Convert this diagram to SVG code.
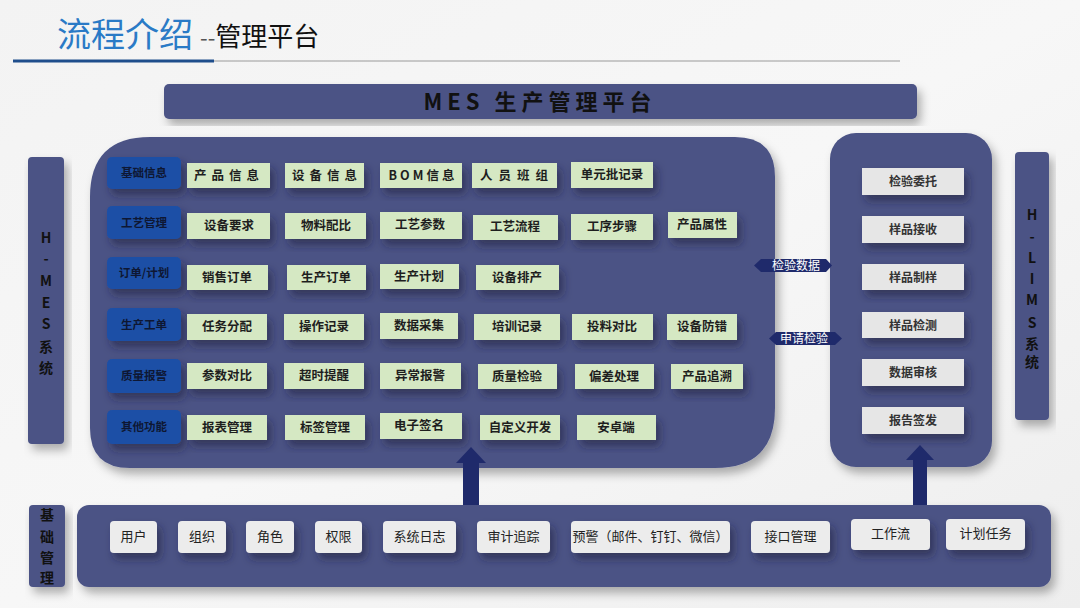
<svg xmlns="http://www.w3.org/2000/svg" width="1080" height="608" viewBox="0 0 1080 608">
<defs>
<linearGradient id="bg" x1="0" y1="0" x2="1" y2="1">
<stop offset="0" stop-color="#f3f3f3"/>
<stop offset="0.5" stop-color="#f7f7f7"/>
<stop offset="1" stop-color="#eeeeee"/>
</linearGradient>
<filter id="sh" x="-20%" y="-20%" width="150%" height="170%">
<feDropShadow dx="4" dy="6" stdDeviation="4" flood-color="#1a1f3a" flood-opacity="0.55"/>
</filter>
<filter id="psh" x="-10%" y="-10%" width="130%" height="130%">
<feDropShadow dx="4" dy="6" stdDeviation="5" flood-color="#000" flood-opacity="0.3"/>
</filter>
<style>
.panel{fill:#4b5385}
.cat{fill:#1c4fa6}
.catt{font-family:"Noto Sans CJK SC",sans-serif;font-size:11.5px;font-weight:700;fill:#0e1733;text-anchor:middle}
.g{fill:#d5e8c3}
.gt{font-family:"Noto Sans CJK SC",sans-serif;font-size:12.5px;font-weight:700;fill:#1e1e1e;text-anchor:middle}
.w{fill:#e6e6e6}
.wt{font-family:"Noto Sans CJK SC",sans-serif;font-size:12px;font-weight:700;fill:#333;text-anchor:middle}
.b{fill:#ececec}
.bt{font-family:"Noto Sans CJK SC",sans-serif;font-size:13px;fill:#222;text-anchor:middle}
.vt{font-family:"Noto Sans CJK SC",sans-serif;font-size:14px;font-weight:700;fill:#111;text-anchor:middle}
.arr{fill:#1f2a6b}
.bdg{fill:#1f2a6b}
.bdgt{font-family:"Noto Sans CJK SC",sans-serif;font-size:12px;fill:#fff;text-anchor:middle}
</style>
</defs>
<rect width="1080" height="608" fill="url(#bg)"/>

<g id="title">
<text x="57" y="47" font-family="'Noto Sans CJK SC',sans-serif" font-size="34" fill="#2a7ac6">流程介绍</text>
<text x="200" y="46" font-family="'Noto Sans CJK SC',sans-serif" font-size="26" fill="#111"><tspan fill="#555" font-size="22">--</tspan>管理平台</text>
<line x1="214" y1="61" x2="900" y2="61" stroke="#9a9a9a" stroke-width="1"/>
<line x1="13" y1="61" x2="214" y2="61" stroke="#1f4e8c" stroke-width="3"/>
</g>

<g id="mes-header">
<rect x="164" y="84" width="753" height="35" rx="5" class="panel" filter="url(#psh)"/>
<text x="540" y="110" font-family="'Noto Sans CJK SC',sans-serif" font-size="22" font-weight="700" fill="#111" text-anchor="middle" letter-spacing="5">MES 生产管理平台</text>
</g>

<g id="h-mes">
<rect x="28" y="157" width="36" height="287" rx="4" class="panel" filter="url(#psh)"/>
<text class="vt" x="46" y="243">H</text>
<text class="vt" x="46" y="264">-</text>
<text class="vt" x="46" y="286">M</text>
<text class="vt" x="46" y="308">E</text>
<text class="vt" x="46" y="329">S</text>
<text class="vt" x="46" y="352">系</text>
<text class="vt" x="46" y="373">统</text>
</g>

<g id="h-lims">
<rect x="1015" y="152" width="34" height="268" rx="4" class="panel" filter="url(#psh)"/>
<text class="vt" x="1032" y="220">H</text>
<text class="vt" x="1032" y="242">-</text>
<text class="vt" x="1032" y="263">L</text>
<text class="vt" x="1032" y="284">I</text>
<text class="vt" x="1032" y="305">M</text>
<text class="vt" x="1032" y="328">S</text>
<text class="vt" x="1032" y="349">系</text>
<text class="vt" x="1032" y="367">统</text>
</g>

<g id="mes-panel">
<path d="M150 137 H735 Q775 137 775 177 V408 Q775 468 715 468 H130 Q90 468 90 428 V197 Q90 137 150 137 Z" class="panel" filter="url(#psh)"/>
</g>

<g id="categories">
<rect x="107" y="157" width="74" height="32" rx="5" class="cat" filter="url(#sh)"/><text class="catt" x="144" y="177">基础信息</text>
<rect x="107" y="206" width="74" height="33" rx="5" class="cat" filter="url(#sh)"/><text class="catt" x="144" y="227">工艺管理</text>
<rect x="107" y="257" width="74" height="32" rx="5" class="cat" filter="url(#sh)"/><text class="catt" x="144" y="277">订单/计划</text>
<rect x="107" y="308" width="74" height="33" rx="5" class="cat" filter="url(#sh)"/><text class="catt" x="144" y="329">生产工单</text>
<rect x="107" y="359" width="74" height="34" rx="5" class="cat" filter="url(#sh)"/><text class="catt" x="144" y="380">质量报警</text>
<rect x="107" y="410" width="74" height="34" rx="5" class="cat" filter="url(#sh)"/><text class="catt" x="144" y="431">其他功能</text>
</g>

<g id="row1">
<rect x="187" y="163" width="83" height="25" class="g" filter="url(#sh)"/><text class="gt" x="229" y="180" letter-spacing="5">产品信息</text>
<rect x="285" y="163" width="79" height="25" class="g" filter="url(#sh)"/><text class="gt" x="327" y="180" letter-spacing="5">设备信息</text>
<rect x="380" y="163" width="82" height="25" class="g" filter="url(#sh)"/><text class="gt" x="423" y="180" letter-spacing="3">BOM信息</text>
<rect x="472" y="163" width="85" height="25" class="g" filter="url(#sh)"/><text class="gt" x="517" y="180" letter-spacing="6">人员班组</text>
<rect x="571" y="162" width="82" height="26" class="g" filter="url(#sh)"/><text class="gt" x="612" y="179">单元批记录</text>
</g>

<g id="row2">
<rect x="187" y="213" width="83" height="26" class="g" filter="url(#sh)"/><text class="gt" x="229" y="230">设备要求</text>
<rect x="285" y="213" width="81" height="26" class="g" filter="url(#sh)"/><text class="gt" x="326" y="230">物料配比</text>
<rect x="380" y="212" width="82" height="27" class="g" filter="url(#sh)"/><text class="gt" x="420" y="229">工艺参数</text>
<rect x="473" y="215" width="85" height="25" class="g" filter="url(#sh)"/><text class="gt" x="515" y="231">工艺流程</text>
<rect x="571" y="214" width="82" height="26" class="g" filter="url(#sh)"/><text class="gt" x="612" y="231">工序步骤</text>
<rect x="668" y="212" width="69" height="26" class="g" filter="url(#sh)"/><text class="gt" x="702" y="229">产品属性</text>
</g>

<g id="row3">
<rect x="187" y="265" width="81" height="25" class="g" filter="url(#sh)"/><text class="gt" x="227" y="282">销售订单</text>
<rect x="287" y="265" width="79" height="25" class="g" filter="url(#sh)"/><text class="gt" x="326" y="282">生产订单</text>
<rect x="380" y="264" width="79" height="25" class="g" filter="url(#sh)"/><text class="gt" x="419" y="281">生产计划</text>
<rect x="476" y="265" width="83" height="25" class="g" filter="url(#sh)"/><text class="gt" x="517" y="282">设备排产</text>
</g>

<g id="row4">
<rect x="187" y="314" width="80" height="26" class="g" filter="url(#sh)"/><text class="gt" x="227" y="331">任务分配</text>
<rect x="284" y="314" width="80" height="26" class="g" filter="url(#sh)"/><text class="gt" x="324" y="331">操作记录</text>
<rect x="380" y="313" width="78" height="26" class="g" filter="url(#sh)"/><text class="gt" x="419" y="330">数据采集</text>
<rect x="474" y="314" width="86" height="26" class="g" filter="url(#sh)"/><text class="gt" x="517" y="331">培训记录</text>
<rect x="572" y="314" width="81" height="26" class="g" filter="url(#sh)"/><text class="gt" x="612" y="331">投料对比</text>
<rect x="667" y="314" width="70" height="26" class="g" filter="url(#sh)"/><text class="gt" x="702" y="331">设备防错</text>
</g>

<g id="row5">
<rect x="187" y="363" width="80" height="26" class="g" filter="url(#sh)"/><text class="gt" x="227" y="380">参数对比</text>
<rect x="284" y="363" width="80" height="26" class="g" filter="url(#sh)"/><text class="gt" x="324" y="380">超时提醒</text>
<rect x="380" y="363" width="81" height="26" class="g" filter="url(#sh)"/><text class="gt" x="420" y="380">异常报警</text>
<rect x="478" y="364" width="79" height="25" class="g" filter="url(#sh)"/><text class="gt" x="517" y="381">质量检验</text>
<rect x="575" y="364" width="79" height="25" class="g" filter="url(#sh)"/><text class="gt" x="614" y="381">偏差处理</text>
<rect x="671" y="364" width="72" height="25" class="g" filter="url(#sh)"/><text class="gt" x="707" y="381">产品追溯</text>
</g>

<g id="row6">
<rect x="187" y="415" width="80" height="25" class="g" filter="url(#sh)"/><text class="gt" x="227" y="432">报表管理</text>
<rect x="285" y="415" width="80" height="25" class="g" filter="url(#sh)"/><text class="gt" x="325" y="432">标签管理</text>
<rect x="380" y="413" width="82" height="26" class="g" filter="url(#sh)"/><text class="gt" x="419" y="430">电子签名</text>
<rect x="480" y="415" width="80" height="25" class="g" filter="url(#sh)"/><text class="gt" x="520" y="432">自定义开发</text>
<rect x="577" y="415" width="79" height="25" class="g" filter="url(#sh)"/><text class="gt" x="616" y="432">安卓端</text>
</g>

<g id="lims-panel">
<rect x="830" y="133" width="162" height="334" rx="26" class="panel" filter="url(#psh)"/>
<rect x="862" y="168" width="102" height="27" class="w" filter="url(#sh)"/><text class="wt" x="913" y="186">检验委托</text>
<rect x="862" y="216" width="102" height="27" class="w" filter="url(#sh)"/><text class="wt" x="913" y="234">样品接收</text>
<rect x="862" y="264" width="102" height="26" class="w" filter="url(#sh)"/><text class="wt" x="913" y="282">样品制样</text>
<rect x="862" y="312" width="102" height="26" class="w" filter="url(#sh)"/><text class="wt" x="913" y="330">样品检测</text>
<rect x="862" y="359" width="102" height="27" class="w" filter="url(#sh)"/><text class="wt" x="913" y="377">数据审核</text>
<rect x="862" y="407" width="102" height="27" class="w" filter="url(#sh)"/><text class="wt" x="913" y="425">报告签发</text>
</g>

<g id="base-label">
<rect x="29" y="505" width="36" height="82" rx="4" class="panel" filter="url(#psh)"/>
<text class="vt" x="47" y="520" font-size="16">基</text>
<text class="vt" x="47" y="542" font-size="16">础</text>
<text class="vt" x="47" y="563" font-size="16">管</text>
<text class="vt" x="47" y="583" font-size="16">理</text>
</g>

<g id="base-panel">
<rect x="77" y="505" width="974" height="82" rx="12" class="panel" filter="url(#psh)"/>
<rect x="110" y="521" width="47" height="32" rx="4" class="b" filter="url(#sh)"/><text class="bt" x="133.5" y="541">用户</text>
<rect x="178" y="521" width="48" height="32" rx="4" class="b" filter="url(#sh)"/><text class="bt" x="202" y="541">组织</text>
<rect x="246" y="521" width="48" height="32" rx="4" class="b" filter="url(#sh)"/><text class="bt" x="270" y="541">角色</text>
<rect x="315" y="521" width="47" height="32" rx="4" class="b" filter="url(#sh)"/><text class="bt" x="338.5" y="541">权限</text>
<rect x="383" y="521" width="73" height="32" rx="4" class="b" filter="url(#sh)"/><text class="bt" x="419.5" y="541">系统日志</text>
<rect x="477" y="521" width="73" height="32" rx="4" class="b" filter="url(#sh)"/><text class="bt" x="513.5" y="541">审计追踪</text>
<rect x="571" y="521" width="159" height="32" rx="4" class="b" filter="url(#sh)"/><text class="bt" x="650.5" y="541">预警（邮件、钉钉、微信）</text>
<rect x="751" y="521" width="79" height="32" rx="4" class="b" filter="url(#sh)"/><text class="bt" x="790.5" y="541">接口管理</text>
<rect x="851" y="519" width="79" height="31" rx="4" class="b" filter="url(#sh)"/><text class="bt" x="890.5" y="538">工作流</text>
<rect x="946" y="519" width="79" height="31" rx="4" class="b" filter="url(#sh)"/><text class="bt" x="985.5" y="538">计划任务</text>
</g>

<g id="connectors">
<polygon class="arr" points="471,447 486,463 479,463 479,505 463,505 463,463 456,463"/>
<polygon class="arr" points="920,445 934,460 927,460 927,505 913,505 913,460 906,460"/>
<polygon class="bdg" points="754,265.5 761,259 826,259 832,265.5 826,272 761,272"/>
<text class="bdgt" x="796" y="270">检验数据</text>
<polygon class="bdg" points="769,338.5 776,332 835,332 842,338.5 835,345 776,345"/>
<text class="bdgt" x="804" y="343">申请检验</text>
</g>
</svg>
